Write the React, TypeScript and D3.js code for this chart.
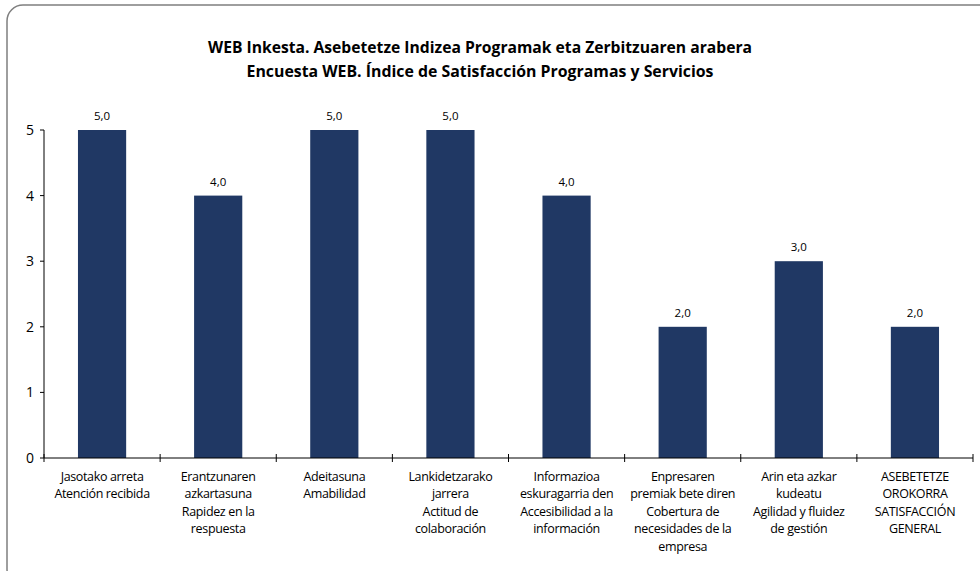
import React from "react";
import * as d3 from "d3";

const titleLines = [
  "WEB Inkesta. Asebetetze Indizea Programak eta Zerbitzuaren arabera",
  "Encuesta WEB. Índice de Satisfacción Programas y Servicios",
];
const categories = [
  ["Jasotako arreta", "Atención recibida"],
  ["Erantzunaren", "azkartasuna", "Rapidez en la", "respuesta"],
  ["Adeitasuna", "Amabilidad"],
  ["Lankidetzarako", "jarrera", "Actitud de", "colaboración"],
  ["Informazioa", "eskuragarria den", "Accesibilidad a la", "información"],
  ["Enpresaren", "premiak bete diren", "Cobertura de", "necesidades de la", "empresa"],
  ["Arin eta azkar", "kudeatu", "Agilidad y fluidez", "de gestión"],
  ["ASEBETETZE", "OROKORRA", "SATISFACCIÓN", "GENERAL"],
];
const values = [5, 4, 5, 5, 4, 2, 3, 2];
const yTicks = [0, 1, 2, 3, 4, 5];

const W = 980;
const H = 571;
const left = 44;
const right = 973;
const top = 130;
const bottom = 458;
const font = "'Open Sans', 'Liberation Sans', sans-serif";

export default function App() {
  const idx = values.map((_, i) => String(i));
  const x = d3.scaleBand().domain(idx).range([left, right]).paddingInner(0).paddingOuter(0);
  const y = d3.scaleLinear().domain([0, 5]).range([bottom, top]);
  const bw = x.bandwidth();
  const barW = bw * 0.415;
  const fmt = (v: number) => d3.format(".1f")(v).replace(".", ",");
  return (
    <svg width={W} height={H} style={{ position: "absolute", left: 0, top: 0 }}>
      <rect x={0} y={0} width={W} height={H} fill="#fff" />
      <rect x={7} y={5} width={990} height={580} rx={16} ry={16} fill="#fff" stroke="#7f7f7f" strokeWidth={1.5} />
      {titleLines.map((t, i) => (
        <text key={i} x={480} y={53 + i * 24} textAnchor="middle" fontFamily={font} fontWeight="bold" fontSize={16}
          textLength={i === 0 ? 544 : 467} lengthAdjust="spacingAndGlyphs" fill="#000">{t}</text>
      ))}
      {values.map((v, i) => {
        const cx = x(String(i))! + bw / 2;
        return (
          <g key={i}>
            <rect x={cx - barW / 2} y={y(v)} width={barW} height={y(0) - y(v)} fill="#203864" />
            <text x={cx} y={y(v) - 10} textAnchor="middle" fontFamily={font} fontSize={11.5} fill="#000">{fmt(v)}</text>
            {categories[i].map((l, j) => (
              <text key={j} x={cx} y={481 + j * 17.4} textAnchor="middle" fontFamily={font} fontSize={12.5} fill="#000"
                letterSpacing={-0.35}>{l}</text>
            ))}
          </g>
        );
      })}
      <line x1={left} x2={left} y1={top} y2={bottom} stroke="#000" strokeWidth={1} />
      {yTicks.map((t) => (
        <g key={t}>
          <line x1={left - 4} x2={left} y1={y(t)} y2={y(t)} stroke="#000" />
          <text x={34} y={y(t) + 5} textAnchor="end" fontFamily={font} fontSize={14} fill="#000">{t}</text>
        </g>
      ))}
      <line x1={left} x2={right} y1={bottom} y2={bottom} stroke="#000" />
      {d3.range(values.length + 1).map((i) => {
        const xx = left + i * bw;
        return <line key={i} x1={xx} x2={xx} y1={bottom - 4} y2={bottom + 4} stroke="#000" />;
      })}
    </svg>
  );
}
